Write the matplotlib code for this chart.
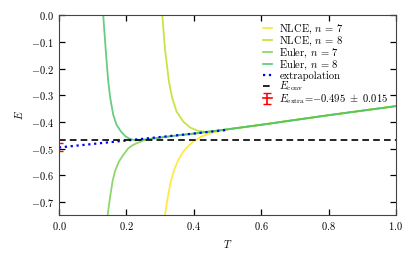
import numpy as np
import matplotlib
matplotlib.use("Agg")
import matplotlib.pyplot as plt

plt.rcParams["font.family"] = "serif"
plt.rcParams["font.serif"] = ["cmr10"]
plt.rcParams["mathtext.fontset"] = "cm"
plt.rcParams["axes.formatter.use_mathtext"] = True
plt.rcParams["font.size"] = 7.5

# ── data ──────────────────────────────────────────────────────────────────────
T_conv = [0.27, 0.30, 0.35, 0.40, 0.45, 0.50, 0.60, 0.70, 0.80, 0.90, 1.00]
E_conv_curve = [-0.464, -0.459, -0.451, -0.444, -0.436, -0.428, -0.411, -0.393, -0.375, -0.358, -0.341]

T_nlce7 = [0.3145, 0.3225, 0.332, 0.342, 0.354, 0.367, 0.380, 0.398, 0.423, 0.448, 0.478]
E_nlce7 = [-0.75, -0.686, -0.624, -0.580, -0.543, -0.515, -0.495, -0.474, -0.455, -0.443, -0.435]

T_nlce8 = [0.3067, 0.3145, 0.3264, 0.3363, 0.349, 0.369, 0.389, 0.413, 0.433]
E_nlce8 = [0.0, -0.124, -0.249, -0.311, -0.361, -0.399, -0.421, -0.434, -0.437]

T_euler7 = [0.1445, 0.1513, 0.159, 0.166, 0.178, 0.191, 0.206, 0.2206, 0.235, 0.25]
E_euler7 = [-0.75, -0.686, -0.624, -0.586, -0.549, -0.524, -0.499, -0.486, -0.478, -0.470]

T_euler8 = [0.1315, 0.1385, 0.1464, 0.1523, 0.1613, 0.171, 0.184, 0.198, 0.211, 0.2255, 0.24]
E_euler8 = [0.0, -0.124, -0.249, -0.311, -0.374, -0.411, -0.436, -0.455, -0.464, -0.469, -0.468]

T_extrap = [0.0, 0.1, 0.2, 0.3, 0.4, 0.5]
E_extrap = [-0.496, -0.483, -0.470, -0.457, -0.444, -0.430]

E_conv = -0.468
E_extra, E_extra_err = -0.495, 0.015


def join(t, e):
    # divergent branch, then the converged tail
    tt = list(t) + [x for x in T_conv if x > t[-1]]
    ee = list(e) + [y for x, y in zip(T_conv, E_conv_curve) if x > t[-1]]
    return tt, ee


cmap = plt.get_cmap("viridis")
series = [
    ("NLCE, $n$ = 7", T_nlce7, E_nlce7, cmap(1.0)),
    ("NLCE, $n$ = 8", T_nlce8, E_nlce8, cmap(0.9)),
    ("Euler, $n$ = 7", T_euler7, E_euler7, cmap(0.8)),
    ("Euler, $n$ = 8", T_euler8, E_euler8, cmap(0.72)),
]

fig = plt.figure(figsize=(4.15, 2.58), dpi=100)
ax = fig.add_axes([0.142, 0.166, 0.812, 0.775])

for label, t, e, c in series:
    tt, ee = join(t, e)
    ax.plot(tt, ee, color=c, lw=1.3, alpha=0.85, label=label,
            solid_joinstyle="round")

ax.plot(T_extrap, E_extrap, ls=":", color="blue", lw=1.6, label="extrapolation")
ax.axhline(E_conv, color="black", ls="--", lw=1.2, dashes=(4, 2.5), label=r"$E_{\rm conv}$")
ax.errorbar([0.0], [E_extra], yerr=[E_extra_err], color="red", capsize=3, lw=1.2,
            fmt="-", label=r"$E_{\rm extra}$=$-0.495\ \pm\ 0.015$")

ax.set_xlim(0, 1.0)
ax.set_ylim(-0.75, 0.0)
ax.set_xticks(np.arange(0, 1.01, 0.2))
ax.set_yticks(np.arange(-0.7, 0.01, 0.1))
ax.set_xlabel("$T$")
ax.set_ylabel("$E$")
ax.tick_params(direction="in", top=True, right=True, length=4, width=0.9)
for s in ax.spines.values():
    s.set_color("#444444")

ax.legend(loc="upper right", frameon=False, fontsize=7.6, handlelength=0.9,
          handletextpad=0.7, labelspacing=-0.12, borderaxespad=0.3)

fig.savefig("out.png", dpi=100)
